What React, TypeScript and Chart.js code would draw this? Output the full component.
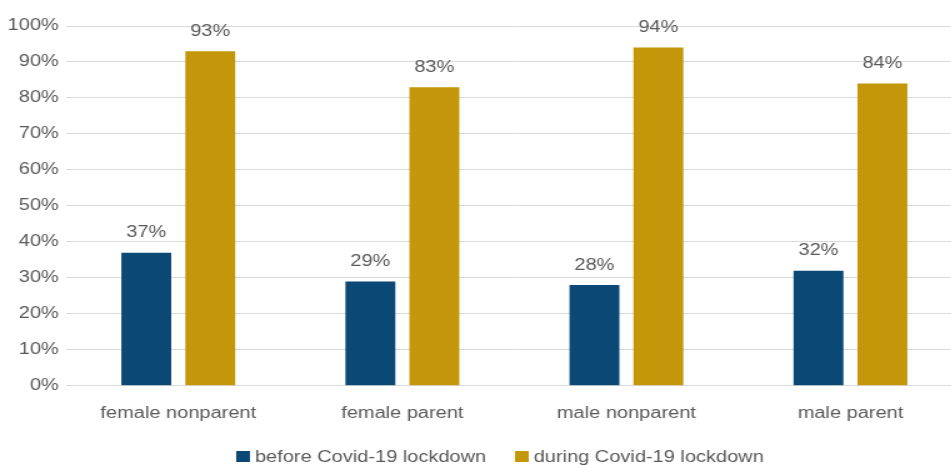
import { useEffect, useRef } from "react";
import { Chart, registerables } from "chart.js";

Chart.register(...registerables);

const categories = ["female nonparent", "female parent", "male nonparent", "male parent"];
const beforeLockdown = [37, 29, 28, 32];
const duringLockdown = [93, 83, 94, 84];
const seriesNames = ["before Covid-19 lockdown", "during Covid-19 lockdown"];
const seriesColors = ["#0b4875", "#c4960a"];
const yTicks = [0, 10, 20, 30, 40, 50, 60, 70, 80, 90, 100];

const TEXT = "#595959";
const FONT = "'Liberation Sans', Arial, sans-serif";
const STRETCH = 1.25;

const valueLabels = {
  id: "valueLabels",
  afterDatasetsDraw(chart: any) {
    const ctx = chart.ctx;
    ctx.save();
    ctx.font = `16px ${FONT}`;
    ctx.fillStyle = TEXT;
    ctx.textAlign = "center";
    ctx.textBaseline = "alphabetic";
    chart.data.datasets.forEach((ds: any, i: number) => {
      const meta = chart.getDatasetMeta(i);
      meta.data.forEach((bar: any, j: number) => {
        ctx.fillText(`${ds.data[j]}%`, bar.x, bar.y - 15.5);
      });
    });
    ctx.restore();
  },
};

const bottomLegend = {
  id: "bottomLegend",
  afterDraw(chart: any) {
    const ctx = chart.ctx;
    ctx.save();
    ctx.font = `16px ${FONT}`;
    const box = 11;
    const gap = 4;
    const spacing = 23;
    const widths = chart.data.datasets.map((d: any) => ctx.measureText(d.label).width);
    const total =
      widths.reduce((a: number, w: number) => a + box + gap + w, 0) + spacing * (widths.length - 1);
    let x = 400 - total / 2;
    const baseline = 462;
    chart.data.datasets.forEach((d: any, i: number) => {
      ctx.fillStyle = d.backgroundColor;
      ctx.fillRect(x, baseline - 11, box, box);
      x += box + gap;
      ctx.fillStyle = TEXT;
      ctx.textAlign = "left";
      ctx.textBaseline = "alphabetic";
      ctx.fillText(d.label, x, baseline);
      x += widths[i] + spacing;
    });
    ctx.restore();
  },
};

export default function App() {
  const ref = useRef<HTMLCanvasElement>(null);

  useEffect(() => {
    if (!ref.current) return;
    const chart = new Chart(ref.current, {
      type: "bar",
      data: {
        labels: categories,
        datasets: [
          {
            label: seriesNames[0],
            data: beforeLockdown,
            backgroundColor: seriesColors[0],
            categoryPercentage: 0.571,
            barPercentage: 0.78,
          },
          {
            label: seriesNames[1],
            data: duringLockdown,
            backgroundColor: seriesColors[1],
            categoryPercentage: 0.571,
            barPercentage: 0.78,
          },
        ],
      },
      options: {
        responsive: false,
        animation: false,
        layout: { padding: { top: 26, right: 10, bottom: 24, left: 0 } },
        plugins: {
          legend: { display: false },
          tooltip: { enabled: false },
        },
        scales: {
          x: {
            grid: { display: false, drawTicks: false },
            border: { display: false },
            ticks: { color: TEXT, font: { family: FONT, size: 16 }, padding: 18 },
          },
          y: {
            min: 0,
            max: 100,
            afterBuildTicks: (scale: any) => {
              scale.ticks = yTicks.map((v) => ({ value: v }));
            },
            afterFit: (scale: any) => {
              scale.width = 53;
            },
            grid: { color: "#d9d9d9", lineWidth: 1, drawTicks: false },
            border: { display: false },
            ticks: {
              color: TEXT,
              font: { family: FONT, size: 16 },
              padding: 6,
              callback: (v: any) => `${v}%`,
            },
          },
        },
      },
      plugins: [valueLabels, bottomLegend],
    });
    return () => chart.destroy();
  }, []);

  return (
    <div
      style={{
        position: "fixed",
        left: 0,
        top: 0,
        width: 951,
        height: 465,
        overflow: "hidden",
        background: "#ffffff",
      }}
    >
      <canvas
        ref={ref}
        width={780}
        height={465}
        style={{
          width: 780,
          height: 465,
          transform: `scaleX(${STRETCH})`,
          transformOrigin: "0 0",
          display: "block",
        }}
      />
    </div>
  );
}
